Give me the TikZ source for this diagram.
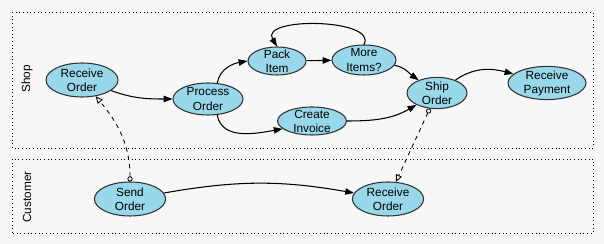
\documentclass[tikz,border=0pt]{standalone}
\usepackage{fontspec}
\setmainfont{Liberation Sans}
\usetikzlibrary{shapes.geometric,arrows.meta}
\definecolor{acaofill}{RGB}{152,216,234}
\definecolor{papel}{RGB}{247,247,247}

\begin{document}
\begin{tikzpicture}[>={Triangle[length=2.2mm,width=1.6mm]}, line width=0.75pt,
    acao/.style={draw=black!80, ellipse, fill=acaofill, align=center, inner xsep=-2pt, inner ysep=-3pt,
        font=\fontsize{8.4}{10}\selectfont},
    raia/.style={draw, dotted, line width=0.6pt},
    msg/.style={dashed, line width=0.6pt, {Circle[open,length=1.3mm]}-{Triangle[open,length=1.8mm,width=1.6mm]}}]

% background and swimlanes
\fill[papel] (0,0) rectangle (15.1,6.1);
\draw[raia] (0.3,2.4) rectangle (14.83,5.78);
\draw[raia] (0.3,0.275) rectangle (14.83,2.125);
\node[rotate=90, font=\fontsize{8.4}{10}\selectfont] (shop) at (0.675,4.125) {Shop};
\node[rotate=90, font=\fontsize{8.4}{10}\selectfont] (cust) at (0.675,1.175) {Customer};

% Shop activities
\node[acao, minimum width=1.8cm, minimum height=0.85cm] (recv) at (2.05,4.1) {Receive\\Order};
\node[acao, minimum width=1.75cm, minimum height=0.8cm] (proc) at (5.2,3.625) {Process\\Order};
\node[acao, minimum width=1.45cm, minimum height=0.7cm] (pack) at (6.925,4.575) {Pack\\Item};
\node[acao, minimum width=1.6cm, minimum height=0.75cm] (more) at (9.1,4.6) {More\\Items?};
\node[acao, minimum width=1.72cm, minimum height=0.7cm] (inv) at (7.8,3.075) {Create\\Invoice};
\node[acao, minimum width=1.5cm, minimum height=0.78cm] (ship) at (10.925,3.775) {Ship\\Order};
\node[acao, minimum width=1.95cm, minimum height=0.83cm] (pay) at (13.675,4.025) {Receive\\Payment};

% Customer activities
\node[acao, minimum width=1.78cm, minimum height=0.85cm] (send) at (3.25,1.125) {Send\\Order};
\node[acao, minimum width=1.78cm, minimum height=0.85cm] (recvc) at (9.7,1.125) {Receive\\Order};

% control flow
\draw[->] (recv) to[out=-20, in=180] (proc);
\draw[->] (proc.60) to[out=80, in=190] (pack.west);
\draw[->] (proc.-60) to[out=-80, in=190] (inv.195);
\draw[->] (pack) -- (more);
\draw[->] (more.north) .. controls +(0.35,0.65) and +(-0.45,0.75) .. (pack.north);
\draw[->] (more) to[out=-10, in=145] (ship);
\draw[->] (inv) to[out=0, in=-150] (ship);
\draw[->] (ship) to[out=35, in=165] (pay);
\draw[->] (send) to[out=10, in=170] (recvc);

% messages between lanes
\draw[msg] (send) to[out=90, in=-50] (recv);
\draw[msg] (ship) -- (recvc);

\end{tikzpicture}
\end{document}
